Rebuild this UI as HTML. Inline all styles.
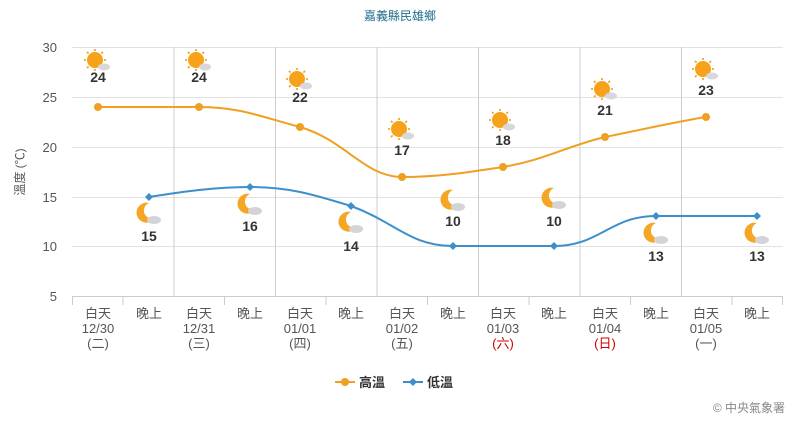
<!DOCTYPE html>
<html><head><meta charset="utf-8"><style>
body{margin:0;background:#fff;}
svg text{font-family:"Liberation Sans","Noto Sans CJK TC",sans-serif;}
</style></head><body>
<svg width="800" height="423" xmlns="http://www.w3.org/2000/svg">
<defs>
<g id="sun"><circle r="8" fill="#f7a21b"/><g stroke="#f39c12" stroke-width="1.6">
<line x1="0" y1="-11" x2="0" y2="-9"/><line x1="0" y1="11" x2="0" y2="9"/><line x1="-11" y1="0" x2="-9" y2="0"/><line x1="11" y1="0" x2="9" y2="0"/>
<line x1="-8" y1="-8" x2="-6.4" y2="-6.4"/><line x1="8" y1="8" x2="6.4" y2="6.4"/><line x1="-8" y1="8" x2="-6.4" y2="6.4"/><line x1="8" y1="-8" x2="6.4" y2="-6.4"/></g>
<ellipse cx="9" cy="7" rx="6" ry="3.5" fill="#d8d8dc"/></g>
<g id="moon"><path d="M3,-10 A10,10 0 1 0 9,5 A8,8 0 0 1 3,-10Z" fill="#f5a623"/><ellipse cx="8" cy="7" rx="7" ry="4" fill="#d4d4d8"/></g>
</defs>
<text x="400" y="20" text-anchor="middle" font-size="12" fill="#1f6d8c">嘉義縣民雄鄉</text>
<g stroke="#e2e2e2" stroke-width="1">
<line x1="72" y1="47.5" x2="783" y2="47.5"/><line x1="72" y1="97.5" x2="783" y2="97.5"/><line x1="72" y1="147.5" x2="783" y2="147.5"/><line x1="72" y1="197.5" x2="783" y2="197.5"/><line x1="72" y1="246.5" x2="783" y2="246.5"/>
</g>
<g stroke="#ccc" stroke-width="1">
<line x1="174" y1="47" x2="174" y2="297"/><line x1="275.5" y1="47" x2="275.5" y2="297"/><line x1="377" y1="47" x2="377" y2="297"/><line x1="478.5" y1="47" x2="478.5" y2="297"/><line x1="580" y1="47" x2="580" y2="297"/><line x1="681.5" y1="47" x2="681.5" y2="297"/>
<line x1="72" y1="296.5" x2="783" y2="296.5"/>
<line x1="72.5" y1="297" x2="72.5" y2="305"/><line x1="123" y1="297" x2="123" y2="305"/><line x1="224.5" y1="297" x2="224.5" y2="305"/><line x1="326" y1="297" x2="326" y2="305"/><line x1="427.5" y1="297" x2="427.5" y2="305"/><line x1="529" y1="297" x2="529" y2="305"/><line x1="630.5" y1="297" x2="630.5" y2="305"/><line x1="732" y1="297" x2="732" y2="305"/><line x1="782.5" y1="297" x2="782.5" y2="305"/>
</g>
<g font-size="13" fill="#555" text-anchor="end">
<text x="57" y="52">30</text><text x="57" y="102">25</text><text x="57" y="152">20</text><text x="57" y="202">15</text><text x="57" y="251">10</text><text x="57" y="301">5</text>
</g>
<text transform="translate(24,172) rotate(-90)" text-anchor="middle" font-size="12" fill="#555">溫度 (℃)</text>
<g font-size="13" fill="#555" text-anchor="middle">
<text x="98" y="318">白天</text><text x="98" y="333">12/30</text><text x="98" y="348">(二)</text>
<text x="149" y="318">晚上</text>
<text x="199" y="318">白天</text><text x="199" y="333">12/31</text><text x="199" y="348">(三)</text>
<text x="250" y="318">晚上</text>
<text x="300" y="318">白天</text><text x="300" y="333">01/01</text><text x="300" y="348">(四)</text>
<text x="351" y="318">晚上</text>
<text x="402" y="318">白天</text><text x="402" y="333">01/02</text><text x="402" y="348">(五)</text>
<text x="453" y="318">晚上</text>
<text x="503" y="318">白天</text><text x="503" y="333">01/03</text><text x="503" y="348" fill="#c00">(六)</text>
<text x="554" y="318">晚上</text>
<text x="605" y="318">白天</text><text x="605" y="333">01/04</text><text x="605" y="348" fill="#c00">(日)</text>
<text x="656" y="318">晚上</text>
<text x="706" y="318">白天</text><text x="706" y="333">01/05</text><text x="706" y="348">(一)</text>
<text x="757" y="318">晚上</text>
</g>
<path d="M98,107 C131,107 166,107 199,107 C240,107 262,117 300,127 C345,140 365,177 402,177 C440,177 470,172 503,167 C545,160 570,145 605,137 C640,130 675,122 706,117" fill="none" stroke="#f0a020" stroke-width="2"/>
<path d="M149,197 C180,192 215,187 250,187 C290,187 315,195 351,206 C395,222 410,246 453,246 L554,246 C600,246 610,216 656,216 L757,216" fill="none" stroke="#3d8fcc" stroke-width="2"/>
<g fill="#f0a020"><circle cx="98" cy="107" r="4"/><circle cx="199" cy="107" r="4"/><circle cx="300" cy="127" r="4"/><circle cx="402" cy="177" r="4"/><circle cx="503" cy="167" r="4"/><circle cx="605" cy="137" r="4"/><circle cx="706" cy="117" r="4"/></g>
<g fill="#3d8fcc"><path d="M149,193 l4,4 l-4,4 l-4,-4z"/><path d="M250,183 l4,4 l-4,4 l-4,-4z"/><path d="M351,202 l4,4 l-4,4 l-4,-4z"/><path d="M453,242 l4,4 l-4,4 l-4,-4z"/><path d="M554,242 l4,4 l-4,4 l-4,-4z"/><path d="M656,212 l4,4 l-4,4 l-4,-4z"/><path d="M757,212 l4,4 l-4,4 l-4,-4z"/></g>
<use href="#sun" x="95" y="60"/><use href="#sun" x="196" y="60"/><use href="#sun" x="297" y="79"/><use href="#sun" x="399" y="129"/><use href="#sun" x="500" y="120"/><use href="#sun" x="602" y="89"/><use href="#sun" x="703" y="69"/>
<use href="#moon" x="146" y="213"/><use href="#moon" x="247" y="204"/><use href="#moon" x="348" y="222"/><use href="#moon" x="450" y="200"/><use href="#moon" x="551" y="198"/><use href="#moon" x="653" y="233"/><use href="#moon" x="754" y="233"/>
<g font-size="14" font-weight="bold" fill="#333" text-anchor="middle">
<text x="98" y="82">24</text><text x="199" y="82">24</text><text x="300" y="102">22</text><text x="402" y="155">17</text><text x="503" y="145">18</text><text x="605" y="115">21</text><text x="706" y="95">23</text>
<text x="149" y="241">15</text><text x="250" y="231">16</text><text x="351" y="251">14</text><text x="453" y="226">10</text><text x="554" y="226">10</text><text x="656" y="261">13</text><text x="757" y="261">13</text>
</g>
<line x1="335" y1="382" x2="355" y2="382" stroke="#f0a020" stroke-width="2"/><circle cx="345" cy="382" r="4" fill="#f0a020"/>
<text x="359" y="387" font-size="13" font-weight="bold" fill="#333">高溫</text>
<line x1="403" y1="382" x2="423" y2="382" stroke="#3d8fcc" stroke-width="2"/><path d="M413,378 l4,4 l-4,4 l-4,-4z" fill="#3d8fcc"/>
<text x="427" y="387" font-size="13" font-weight="bold" fill="#333">低溫</text>
<text x="785" y="412" text-anchor="end" font-size="12" fill="#888">© 中央氣象署</text>
</svg>
</body></html>
